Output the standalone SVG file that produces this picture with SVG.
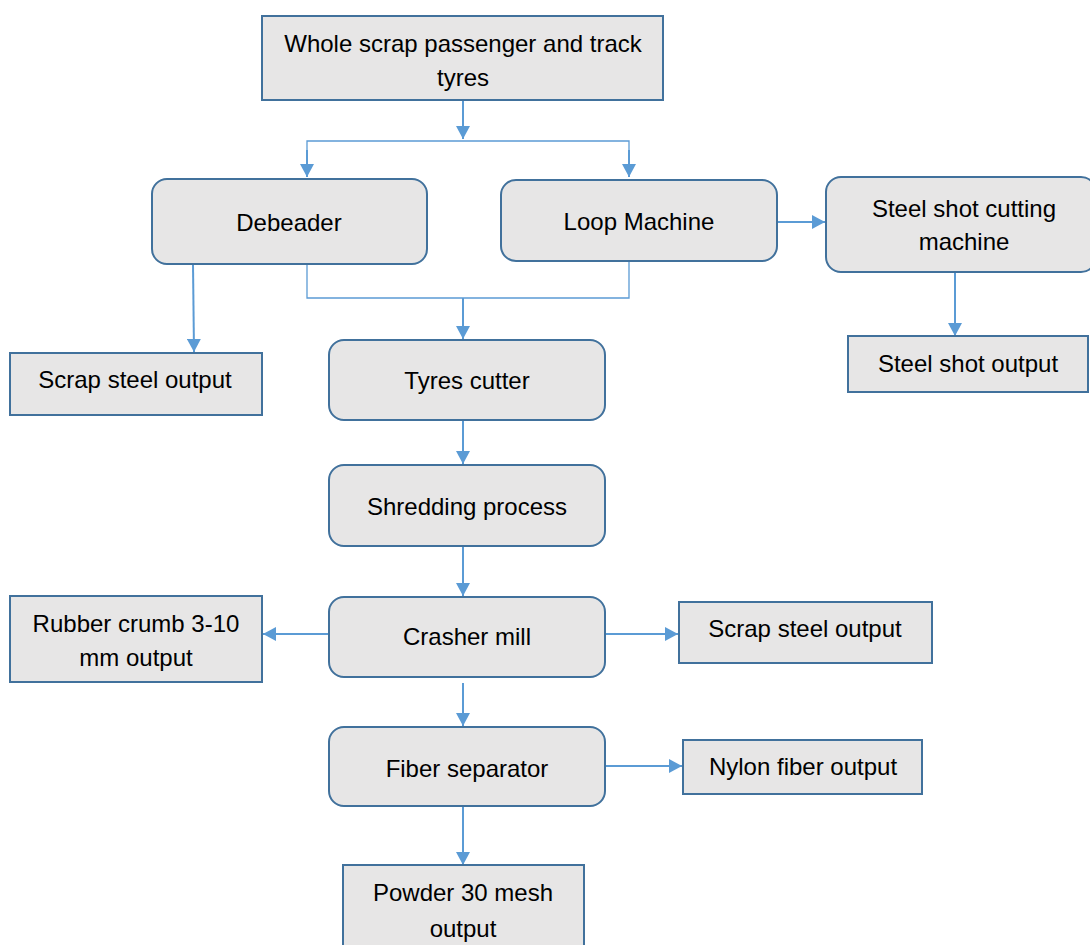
<svg xmlns="http://www.w3.org/2000/svg" width="1090" height="945" viewBox="0 0 1090 945">
<defs>
<style>
.box{fill:#e7e6e6;stroke:#41719c;stroke-width:2}
.t{font-family:"Liberation Sans",Arial,sans-serif;font-size:24px;fill:#000;text-anchor:middle}
.c{fill:none;stroke:#5b9bd5;stroke-width:2}
.thin{fill:none;stroke:#5b9bd5;stroke-width:1.3}
</style>
<marker id="ah" markerUnits="userSpaceOnUse" markerWidth="14" markerHeight="14" refX="13" refY="7" orient="auto">
<path d="M0,0 L13,7 L0,14 z" fill="#5b9bd5"/>
</marker>
</defs>
<rect width="1090" height="945" fill="#fff"/>
<g id="connectors">
<line class="c" x1="463" y1="100" x2="463" y2="139" marker-end="url(#ah)"/>
<polyline class="thin" points="307,176 307,141 629,141 629,176"/>
<line class="c" x1="307" y1="150" x2="307" y2="177" marker-end="url(#ah)"/>
<line class="c" x1="629" y1="150" x2="629" y2="177" marker-end="url(#ah)"/>
<line class="c" x1="777" y1="222" x2="825" y2="222" marker-end="url(#ah)"/>
<line class="c" x1="955" y1="272" x2="955" y2="336" marker-end="url(#ah)"/>
<line class="c" x1="193" y1="264" x2="194" y2="352" marker-end="url(#ah)"/>
<polyline class="thin" points="307,264 307,298 629,298 629,262"/>
<line class="c" x1="463" y1="298" x2="463" y2="339" marker-end="url(#ah)"/>
<line class="c" x1="463" y1="420" x2="463" y2="464" marker-end="url(#ah)"/>
<line class="c" x1="463" y1="546" x2="463" y2="596" marker-end="url(#ah)"/>
<line class="c" x1="329" y1="634" x2="263" y2="634" marker-end="url(#ah)"/>
<line class="c" x1="605" y1="634" x2="678" y2="634" marker-end="url(#ah)"/>
<line class="c" x1="463" y1="683" x2="463" y2="726" marker-end="url(#ah)"/>
<line class="c" x1="605" y1="766" x2="682" y2="766" marker-end="url(#ah)"/>
<line class="c" x1="463" y1="806" x2="463" y2="865" marker-end="url(#ah)"/>
</g>
<g id="n-top"><rect class="box" x="262" y="16" width="401" height="84"/>
<text class="t" x="463" y="52">Whole scrap passenger and track</text><text class="t" x="463" y="86">tyres</text></g>
<g id="n-debeader"><rect class="box" x="152" y="179" width="275" height="85" rx="15"/>
<text class="t" x="289" y="231">Debeader</text></g>
<g id="n-loop"><rect class="box" x="501" y="180" width="276" height="81" rx="15"/>
<text class="t" x="639" y="230">Loop Machine</text></g>
<g id="n-steelcut"><rect class="box" x="826" y="177" width="270" height="95" rx="15"/>
<text class="t" x="964" y="217">Steel shot cutting</text><text class="t" x="964" y="250">machine</text></g>
<g id="n-steelshot"><rect class="box" x="848" y="336" width="240" height="56"/>
<text class="t" x="968" y="372">Steel shot output</text></g>
<g id="n-scrap1"><rect class="box" x="10" y="353" width="252" height="62"/>
<text class="t" x="135" y="388">Scrap steel output</text></g>
<g id="n-cutter"><rect class="box" x="329" y="340" width="276" height="80" rx="15"/>
<text class="t" x="467" y="389">Tyres cutter</text></g>
<g id="n-shred"><rect class="box" x="329" y="465" width="276" height="81" rx="15"/>
<text class="t" x="467" y="515">Shredding process</text></g>
<g id="n-crasher"><rect class="box" x="329" y="597" width="276" height="80" rx="15"/>
<text class="t" x="467" y="645">Crasher mill</text></g>
<g id="n-rubber"><rect class="box" x="10" y="596" width="252" height="86"/>
<text class="t" x="136" y="632">Rubber crumb 3-10</text><text class="t" x="136" y="666">mm output</text></g>
<g id="n-scrap2"><rect class="box" x="679" y="602" width="253" height="61"/>
<text class="t" x="805" y="637">Scrap steel output</text></g>
<g id="n-fiber"><rect class="box" x="329" y="727" width="276" height="79" rx="15"/>
<text class="t" x="467" y="777">Fiber separator</text></g>
<g id="n-nylon"><rect class="box" x="683" y="740" width="239" height="54"/>
<text class="t" x="803" y="775">Nylon fiber output</text></g>
<g id="n-powder"><rect class="box" x="343" y="865" width="241" height="90"/>
<text class="t" x="463" y="901">Powder 30 mesh</text><text class="t" x="463" y="937">output</text></g>
</svg>
